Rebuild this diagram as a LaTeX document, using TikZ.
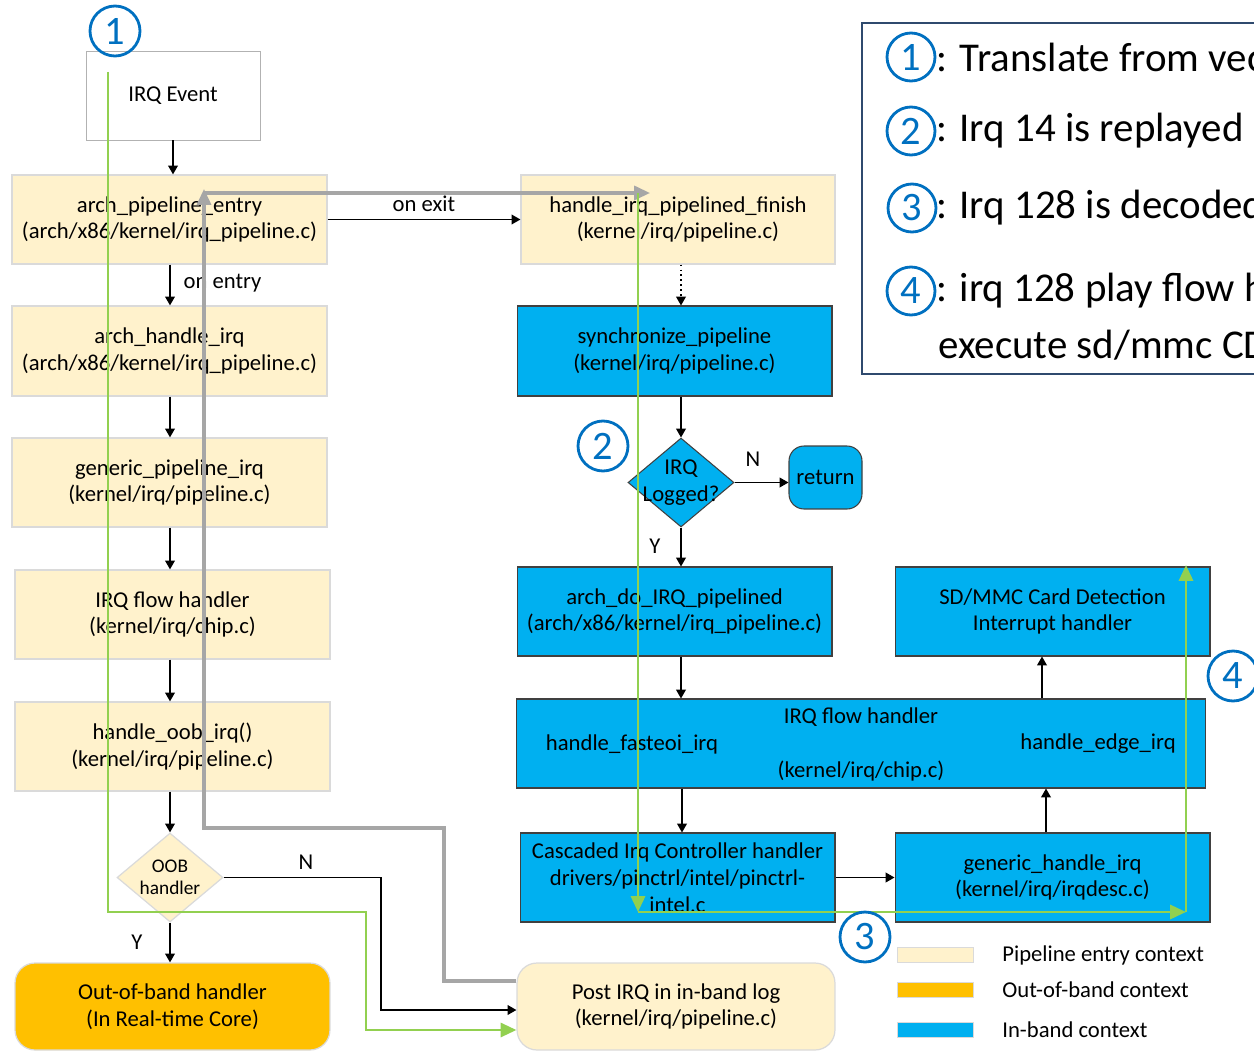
\documentclass[tikz,border=0pt]{standalone}
\usepackage{fontspec}
\setmainfont{Carlito}
\usetikzlibrary{arrows.meta,shapes.geometric}
\definecolor{pipe}{HTML}{FFF2CC}
\definecolor{pipeedge}{HTML}{DADADA}
\definecolor{oobc}{HTML}{FFC000}
\definecolor{inb}{HTML}{00B0F0}
\definecolor{trace}{HTML}{92D050}
\definecolor{backc}{HTML}{A6A6A6}
\definecolor{markc}{HTML}{0070C0}
\definecolor{legedge}{HTML}{2F4A6E}
\tikzset{
  txt/.style={font=\fontsize{12.9}{15.3}\selectfont},
  box/.style={rectangle, minimum width=6.3cm, minimum height=1.78cm, align=center, inner sep=0pt, txt},
  pipebox/.style={box, fill=pipe, draw=pipeedge, line width=0.7pt},
  inbox/.style={box, fill=inb, draw=black!75, line width=0.6pt},
  decision/.style={diamond, minimum width=2.12cm, minimum height=1.78cm, inner sep=0pt},
  flow/.style={-{Triangle[length=5pt,width=5.5pt]}, line width=0.8pt},
  trail/.style={draw=trace, line width=1.6pt},
  trailtip/.style={trail, -{Triangle[length=9pt,width=8pt]}},
  backpath/.style={draw=backc, line width=1.75pt},
  backtip/.style={backpath, -{Triangle[length=9pt,width=8pt]}},
  num/.style={circle, draw=markc, line width=1.6pt, minimum size=1.0cm, inner sep=0pt, text=markc, font=\fontsize{23}{23}\selectfont},
  legnum/.style={num, minimum size=0.96cm},
  legtxt/.style={anchor=west, inner sep=0pt, font=\fontsize{23.3}{28}\selectfont},
  swatch/.style={rectangle, minimum width=1.52cm, minimum height=0.3cm, inner sep=0pt, draw=pipeedge, line width=0.5pt},
  keytxt/.style={anchor=west, inner sep=0pt, txt},
}
\begin{document}
\begin{tikzpicture}[x=0.02cm,y=-0.02cm]
\useasboundingbox (0,0) rectangle (1254,1051);
\clip (0,0) rectangle (1254,1051);

% left column: pipeline entry
\node[box, draw=black!30, line width=0.5pt, minimum width=3.48cm] (ev) at (173,95.5) {IRQ Event};
\node[pipebox] (ape) at (169.5,219.5) {arch\_pipeline\_entry\\(arch/x86/kernel/irq\_pipeline.c)};
\node[pipebox, minimum height=1.8cm] (ahi) at (169.5,351) {arch\_handle\_irq\\(arch/x86/kernel/irq\_pipeline.c)};
\node[pipebox] (gpi) at (169.5,482.5) {generic\_pipeline\_irq\\(kernel/irq/pipeline.c)};
\node[pipebox] (ifh) at (172.5,614.5) {IRQ flow handler\\(kernel/irq/chip.c)};
\node[pipebox] (hoi) at (172.5,746.5) {handle\_oob\_irq()\\(kernel/irq/pipeline.c)};
\node[decision, fill=pipe, draw=pipeedge, line width=0.7pt] (oob) at (170,877.5) {};
\node[align=center, inner sep=0pt, font=\fontsize{11}{12.5}\selectfont] (oobt) at (oob) {OOB\\handler};
\node[box, fill=oobc, draw=pipeedge, line width=0.7pt, rounded corners=0.4cm, minimum height=1.74cm] (obh) at (172.5,1006.5) {Out-of-band handler\\(In Real-time Core)};

% right column: in-band replay
\node[pipebox, minimum width=6.28cm] (hpf) at (678,219.5) {handle\_irq\_pipelined\_finish\\(kernel/irq/pipeline.c)};
\node[inbox, minimum height=1.8cm] (sp) at (674.5,351) {synchronize\_pipeline\\(kernel/irq/pipeline.c)};
\node[decision, fill=inb, draw=black!75, line width=0.6pt] (lg) at (681,482.5) {};
\node[align=center, inner sep=0pt, txt] (lgt) at (lg) {IRQ\\Logged?};
\node[box, fill=inb, draw=black!75, line width=0.6pt, rounded corners=0.3cm, minimum width=1.46cm, minimum height=1.26cm] (ret) at (825.5,477.5) {return};
\node[inbox] (adi) at (674.5,611.5) {arch\_do\_IRQ\_pipelined\\(arch/x86/kernel/irq\_pipeline.c)};
\node[inbox, minimum width=13.8cm] (ifw) at (861,743.5) {};
\node[txt] (ifwt) at (861,717) {IRQ flow handler};
\node[txt] (ifwa) at (632,744) {handle\_fasteoi\_irq};
\node[txt] (ifwb) at (1098,744) {handle\_edge\_irq};
\node[txt] (ifwc) at (861,771) {(kernel/irq/chip.c)};
\node[inbox] (cas) at (677.5,877.5) {Cascaded Irq Controller handler\\drivers/pinctrl/intel/pinctrl-\\intel.c};
\node[inbox] (ghi) at (1052.5,877.5) {generic\_handle\_irq\\(kernel/irq/irqdesc.c)};
\node[inbox] (sd) at (1052.5,611.5) {SD/MMC Card Detection\\Interrupt handler};
\node[box, fill=pipe, draw=pipeedge, line width=0.7pt, rounded corners=0.4cm, minimum width=6.36cm, minimum height=1.74cm] (post) at (676,1006.5) {Post IRQ in in-band log\\(kernel/irq/pipeline.c)};

% control flow
\coordinate (xl) at (170,0);
\coordinate (xr) at (681,0);
\draw[flow] (ev.south) -- (ev.south |- ape.north);
\draw[flow] (ape.south -| xl) -- (ahi.north -| xl) node[pos=0.45, right=4pt, txt] (onent) {on entry};
\draw[flow] (ahi.south -| xl) -- (gpi.north -| xl);
\draw[flow] (gpi.south -| xl) -- (ifh.north -| xl);
\draw[flow] (ifh.south -| xl) -- (hoi.north -| xl);
\draw[flow] (hoi.south -| xl) -- (oob.north);
\draw[flow] (oob.south) -- (obh.north -| oob.south) node[pos=0.5, left=12pt, txt] (ylab) {Y};
\coordinate (nb) at (381,1010);
\draw[flow] (oob.east) -| (nb) -- (nb -| post.west);
\node[txt] (nlab) at (306,862) {N};
\draw[flow] (ape.east) -- (hpf.west) node[pos=0.5, above=1pt, txt] (onexit) {on exit};
\draw[flow, dotted] (hpf.south -| xr) -- (sp.north -| xr);
\draw[flow] (sp.south -| xr) -- (lg.north);
\draw[flow] (lg.east) -- (lg.east -| ret.west);
\node[txt] (nlab2) at (753,459) {N};
\draw[flow] (lg.south) -- (adi.north -| lg.south);
\node[txt] (ylab2) at (655,546) {Y};
\draw[flow] (adi.south -| xr) -- (ifw.north -| xr);
\coordinate (xc) at (682,0);
\draw[flow] (ifw.south -| xc) -- (cas.north -| xc);
\draw[flow] (cas.east) -- (ghi.west);
\coordinate (xu) at (1046,0);
\draw[flow] (ghi.north -| xu) -- (ifw.south -| xu);
\coordinate (xs) at (1042,0);
\draw[flow] (ifw.north -| xs) -- (sd.south -| xs);

% return path of the pipeline
\coordinate (g1) at (444,981);
\coordinate (g2) at (204,828);
\coordinate (g3) at (204,189);
\coordinate (g4) at (204,193);
\coordinate (g5) at (650,193);
\draw[backtip] (post.west |- g1) -- (g1) |- (g2) -- (g3);
\draw[backtip] (g4) -- (g5);

% traced path of the interrupt
\coordinate (t0) at (108,72);
\coordinate (t1) at (366,912);
\coordinate (t2) at (366,1030);
\draw[trailtip] (t0) |- (t1) -- (t2) -- (post.west |- t2);
\coordinate (u0) at (638,193);
\coordinate (u1) at (638,912);
\coordinate (u2) at (1186,912);
\coordinate (u3) at (1186,565);
\draw[trailtip] (u0) -- (u1);
\draw[trailtip] (u1) -- (u2);
\draw[trailtip] (u2) -- (u3);

% step markers
\node[num] (m1) at (115,31) {1};
\node[num] (m2) at (603,446) {2};
\node[num] (m3) at (865,937) {3};
\node[num] (m4) at (1233,676) {4};

% notes
\draw[draw=legedge, line width=1.1pt] (862,23) rectangle (1270,374);
\node[legnum] (k1) at (911,57) {1};
\node[legtxt] (k1t) at (936,57) {: Translate from vector};
\node[legnum] (k2) at (911,131) {2};
\node[legtxt] (k2t) at (936,131) {: Irq 14 is replayed};
\node[legnum] (k3) at (912,208) {3};
\node[legtxt] (k3t) at (936,208) {: Irq 128 is decoded};
\node[legnum] (k4) at (911,291) {4};
\node[legtxt] (k4t) at (936,291) {: irq 128 play flow handler};
\node[legtxt] (k4u) at (938,345) {execute sd/mmc CD};

% colour key
\node[swatch, fill=pipe] (s1) at (935,954.5) {};
\node[keytxt] (s1t) at (1002,955) {Pipeline entry context};
\node[swatch, fill=oobc] (s2) at (935,989.5) {};
\node[keytxt] (s2t) at (1002,990) {Out-of-band context};
\node[swatch, fill=inb] (s3) at (935,1029.5) {};
\node[keytxt] (s3t) at (1002,1030) {In-band context};
\end{tikzpicture}
\end{document}
